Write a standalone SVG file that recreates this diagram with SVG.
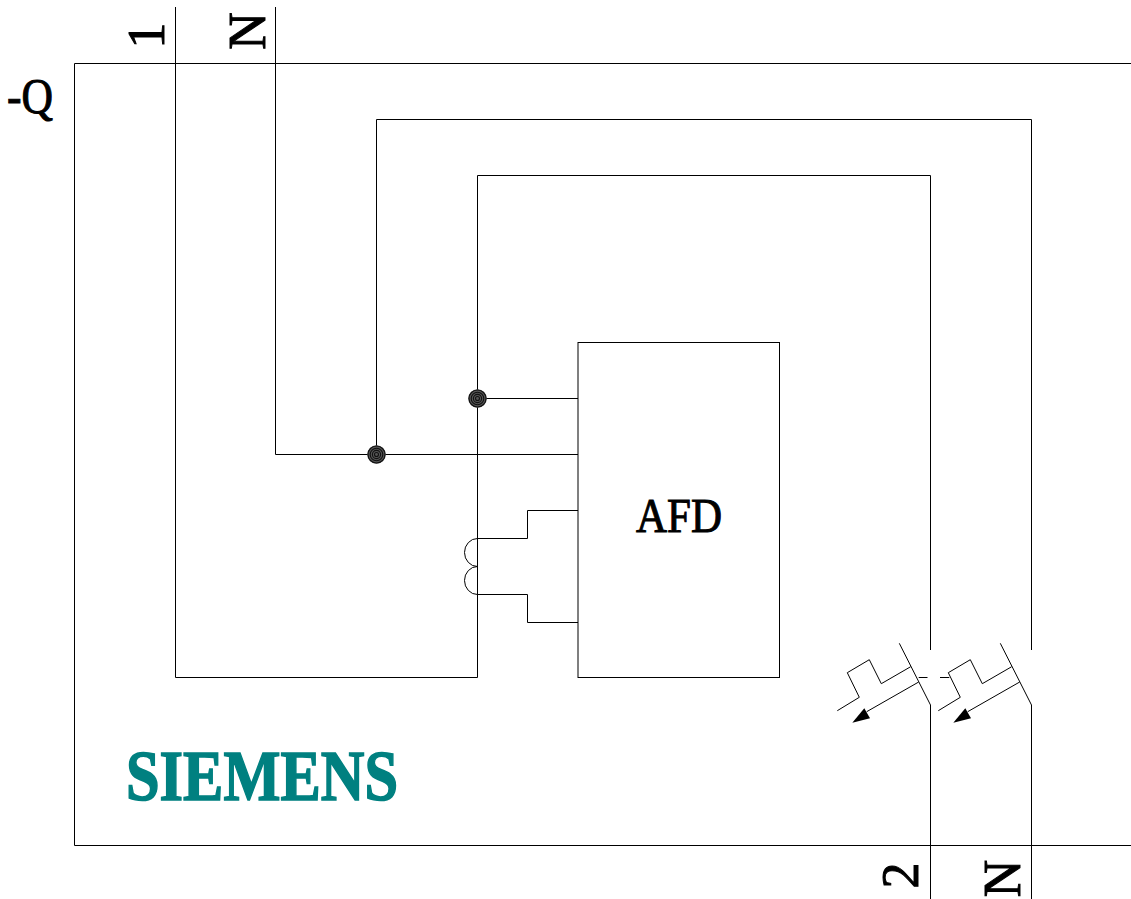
<svg xmlns="http://www.w3.org/2000/svg" width="1131" height="899" viewBox="0 0 1131 899">
<style>
.l{fill:none;stroke:#000;stroke-width:1}
.t{font-family:"Liberation Serif",serif;fill:#000;stroke:#000;stroke-width:1}
.r{fill:none;stroke:#111;stroke-width:1.1}
</style>
<defs>
<g id="brk">
<path class="l" d="M837.300 710.700L859.300 697.300L847.300 672.700L869.300 659.700L881.300 683.700L910.700 666.700"/>
<path class="l" d="M918.700 682L866.700 711.700"/>
<path d="M852.300 722.700L864.300 708.300L870 718.300Z" fill="#000"/>
</g>
<g id="dot">
<circle r="9.300" fill="#555"/>
<circle r="8.500" class="r"/><circle r="6.300" class="r"/><circle r="4.100" class="r"/><circle r="2" class="r"/>
</g>
</defs>
<rect width="1131" height="899" fill="#fff"/>
<g id="frame"><path class="l" d="M1131 63.500H74.500V845.500H1131"/></g>
<g id="connectors">
<path class="l" d="M175.500 7V677.500H477.500V175.500H930.500V650"/>
<path class="l" d="M275.500 7V454.500H578"/>
<path class="l" d="M376.500 454.500V119.500H1031.500V650"/>
<path class="l" d="M477.500 398.500H578"/>
<path class="l" d="M578 510.500H527.500V538.500H477.500"/>
<path class="l" d="M578 622.500H527.500V594.500H477.500"/>
<path class="l" d="M477.500 538.500A13 14 0 0 0 477.500 566.500A13 14 0 0 0 477.500 594.500"/>
<path class="l" d="M930.500 705V899M1031.500 705V899"/>
<path class="l" d="M899.300 643.300L930.500 705M1000.300 643.300L1031.500 705"/>
<path class="l" d="M918.700 677.500H927.500M940 677.500H949.300"/>
</g>
<g id="breaker-1"><use href="#brk"/></g>
<g id="breaker-2"><use href="#brk" x="101"/></g>
<g id="junction-1"><use href="#dot" x="376.500" y="454.500"/></g>
<g id="junction-2"><use href="#dot" x="477.500" y="398.500"/></g>
<g id="afd"><rect class="l" x="578" y="342.500" width="201.500" height="335"/><text class="t" x="636" y="532" font-size="48" textLength="86" lengthAdjust="spacingAndGlyphs">AFD</text></g>
<g id="labels">
<text class="t" x="7" y="113" font-size="50" textLength="46" lengthAdjust="spacingAndGlyphs">-Q</text>
<text class="t" font-size="52" transform="translate(164 35.500) rotate(-90)" text-anchor="middle">1</text>
<text class="t" font-size="52" transform="translate(264.500 31) rotate(-90)" text-anchor="middle">N</text>
<text class="t" font-size="52" transform="translate(918 875.500) rotate(-90)" text-anchor="middle">2</text>
<text class="t" font-size="52" transform="translate(1019.500 878.500) rotate(-90)" text-anchor="middle">N</text>
<text id="logo" x="126" y="800" font-size="72" font-weight="bold" textLength="272" lengthAdjust="spacingAndGlyphs" fill="#008080" stroke="#008080" stroke-width="1.6" font-family="'Liberation Serif',serif">SIEMENS</text>
</g>
</svg>
